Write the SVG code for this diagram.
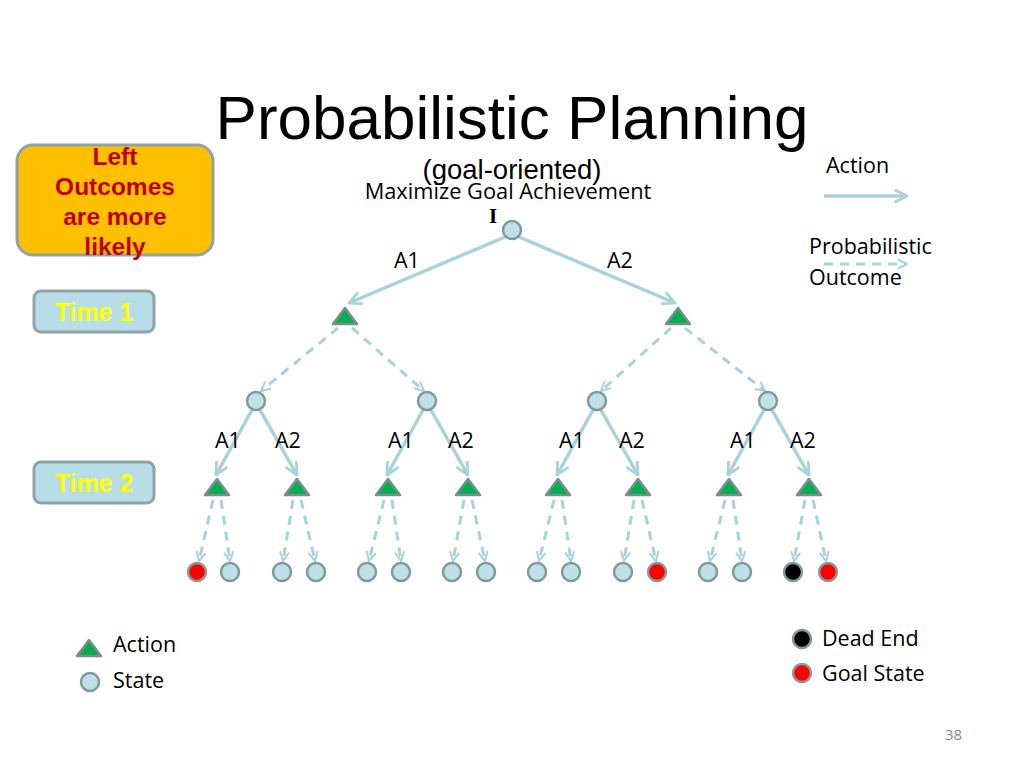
<svg xmlns="http://www.w3.org/2000/svg" width="1024" height="768" viewBox="0 0 1024 768">
<defs>
<style>
.t{font-family:"Liberation Sans",Arial,sans-serif;fill:#000}
.c{font-family:"Open Sans","Liberation Sans",sans-serif;fill:#000}
.st{fill:#bfe0e6;stroke:#7f9a9e;stroke-width:2.5}
.goal{fill:#ff0000;stroke:#8a9a9c;stroke-width:2.5}
.dead{fill:#000;stroke:#7f9a9e;stroke-width:2.5}
.act{fill:#00b050;stroke:#7f8c8c;stroke-width:2.5;stroke-linejoin:round}
.sol{stroke:#a8d3da;stroke-width:3.5;fill:none;marker-end:url(#ah)}
.dsh{stroke:#a8d3da;stroke-width:3;fill:none;stroke-dasharray:9 7;marker-end:url(#ahd)}
.lbl{font-family:"Open Sans","Liberation Sans",sans-serif;font-size:21.5px;fill:#000}
</style>
<marker id="ah" viewBox="0 0 12 12" refX="11" refY="6" markerWidth="15" markerHeight="15" markerUnits="userSpaceOnUse" orient="auto">
<path d="M1,1 L11,6 L1,11" fill="none" stroke="#a8d3da" stroke-width="2.2"/>
</marker>
<marker id="ahd" viewBox="0 0 12 12" refX="11" refY="6" markerWidth="11" markerHeight="11" markerUnits="userSpaceOnUse" orient="auto">
<path d="M1,1 L11,6 L1,11" fill="none" stroke="#a8d3da" stroke-width="2.2"/>
</marker>
<path id="tri" d="M-12,8 L0,-8 L12,8 Z"/>
</defs>
<rect width="1024" height="768" fill="#fff"/>

<text class="t" x="512" y="139" font-size="62" text-anchor="middle">Probabilistic Planning</text>
<text class="t" x="512" y="179" font-size="27.5" text-anchor="middle">(goal-oriented)</text>
<text class="c" x="508" y="199" font-size="21.8" text-anchor="middle">Maximize Goal Achievement</text>
<text x="493" y="223" font-family="Liberation Serif,serif" font-weight="bold" font-size="21" text-anchor="middle">I</text>

<g id="note">
<rect x="17" y="145" width="196" height="110" rx="16" fill="#ffc000" stroke="#8fa3a6" stroke-width="3"/>
<g class="t" font-size="24.5" font-weight="bold" style="fill:#c00000" text-anchor="middle">
<text x="115" y="165">Left</text>
<text x="115" y="195">Outcomes</text>
<text x="115" y="225">are more</text>
<text x="115" y="255">likely</text>
</g>
</g>
<g id="time1">
<rect x="34" y="291" width="120" height="41" rx="7" fill="#b7dee8" stroke="#8fa3a6" stroke-width="3"/>
<text class="t" x="94" y="321" font-size="25" font-weight="bold" style="fill:#ffff00" text-anchor="middle">Time 1</text>
</g>
<g id="time2">
<rect x="34" y="462" width="120" height="41" rx="7" fill="#b7dee8" stroke="#8fa3a6" stroke-width="3"/>
<text class="t" x="94" y="492" font-size="25" font-weight="bold" style="fill:#ffff00" text-anchor="middle">Time 2</text>
</g>

<g id="legend-top">
<text class="c" x="826" y="173" font-size="21.5">Action</text>
<line class="sol" x1="824" y1="196" x2="907" y2="196"/>
<text class="c" x="809" y="254" font-size="21.5">Probabilistic</text>
<line class="dsh" x1="824" y1="264" x2="907" y2="264"/>
<text class="c" x="809" y="285" font-size="21.5">Outcome</text>
</g>

<g id="connectors">
<line class="sol" x1="505" y1="237" x2="349" y2="303"/>
<line class="sol" x1="519" y1="237" x2="675" y2="303"/>
<line class="dsh" x1="338" y1="328" x2="261" y2="391"/>
<line class="dsh" x1="352" y1="328" x2="424" y2="391"/>
<line class="dsh" x1="671" y1="328" x2="601" y2="391"/>
<line class="dsh" x1="685" y1="328" x2="765" y2="391"/>

<line class="sol" x1="252" y1="410" x2="216" y2="475"/>
<line class="sol" x1="260" y1="410" x2="297" y2="475"/>
<line class="sol" x1="423" y1="410" x2="387" y2="475"/>
<line class="sol" x1="431" y1="410" x2="468" y2="475"/>
<line class="sol" x1="593" y1="410" x2="557" y2="475"/>
<line class="sol" x1="601" y1="410" x2="638" y2="475"/>
<line class="sol" x1="764" y1="410" x2="728" y2="475"/>
<line class="sol" x1="772" y1="410" x2="809" y2="475"/>

<line class="dsh" x1="213" y1="500" x2="199" y2="561"/>
<line class="dsh" x1="221" y1="500" x2="230" y2="561"/>
<line class="dsh" x1="293" y1="500" x2="283" y2="561"/>
<line class="dsh" x1="301" y1="500" x2="315" y2="561"/>
<line class="dsh" x1="384" y1="500" x2="369" y2="561"/>
<line class="dsh" x1="392" y1="500" x2="401" y2="561"/>
<line class="dsh" x1="464" y1="500" x2="453" y2="561"/>
<line class="dsh" x1="472" y1="500" x2="485" y2="561"/>
<line class="dsh" x1="554" y1="500" x2="539" y2="561"/>
<line class="dsh" x1="562" y1="500" x2="571" y2="561"/>
<line class="dsh" x1="634" y1="500" x2="624" y2="561"/>
<line class="dsh" x1="642" y1="500" x2="656" y2="561"/>
<line class="dsh" x1="725" y1="500" x2="710" y2="561"/>
<line class="dsh" x1="733" y1="500" x2="742" y2="561"/>
<line class="dsh" x1="805" y1="500" x2="794" y2="561"/>
<line class="dsh" x1="813" y1="500" x2="826" y2="561"/>
</g>

<g id="labels">
<text class="lbl" x="394" y="268">A1</text>
<text class="lbl" x="607" y="268">A2</text>
<text class="lbl" x="215" y="448">A1</text>
<text class="lbl" x="275" y="448">A2</text>
<text class="lbl" x="388" y="448">A1</text>
<text class="lbl" x="448" y="448">A2</text>
<text class="lbl" x="559" y="448">A1</text>
<text class="lbl" x="619" y="448">A2</text>
<text class="lbl" x="730" y="448">A1</text>
<text class="lbl" x="790" y="448">A2</text>
</g>

<g id="root"><circle class="st" cx="512" cy="230" r="9"/></g>
<g id="a-1"><use href="#tri" class="act" x="345" y="316"/></g>
<g id="a-2"><use href="#tri" class="act" x="678" y="316"/></g>
<g id="s-1"><circle class="st" cx="256" cy="401" r="9"/></g>
<g id="s-2"><circle class="st" cx="427" cy="401" r="9"/></g>
<g id="s-3"><circle class="st" cx="597" cy="401" r="9"/></g>
<g id="s-4"><circle class="st" cx="768" cy="401" r="9"/></g>
<g id="a-11"><use href="#tri" class="act" x="217" y="487"/></g>
<g id="a-12"><use href="#tri" class="act" x="297" y="487"/></g>
<g id="a-21"><use href="#tri" class="act" x="388" y="487"/></g>
<g id="a-22"><use href="#tri" class="act" x="468" y="487"/></g>
<g id="a-31"><use href="#tri" class="act" x="558" y="487"/></g>
<g id="a-32"><use href="#tri" class="act" x="638" y="487"/></g>
<g id="a-41"><use href="#tri" class="act" x="729" y="487"/></g>
<g id="a-42"><use href="#tri" class="act" x="809" y="487"/></g>
<g id="leaves">
<circle class="goal" cx="197" cy="572" r="9"/>
<circle class="st" cx="230" cy="572" r="9"/>
<circle class="st" cx="282" cy="572" r="9"/>
<circle class="st" cx="316" cy="572" r="9"/>
<circle class="st" cx="367" cy="572" r="9"/>
<circle class="st" cx="401" cy="572" r="9"/>
<circle class="st" cx="452" cy="572" r="9"/>
<circle class="st" cx="486" cy="572" r="9"/>
<circle class="st" cx="537" cy="572" r="9"/>
<circle class="st" cx="571" cy="572" r="9"/>
<circle class="st" cx="623" cy="572" r="9"/>
<circle class="goal" cx="657" cy="572" r="9"/>
<circle class="st" cx="708" cy="572" r="9"/>
<circle class="st" cx="742" cy="572" r="9"/>
<circle class="dead" cx="793" cy="572" r="9"/>
<circle class="goal" cx="828" cy="572" r="9"/>
</g>

<g id="legend-bottom">
<use href="#tri" class="act" x="89" y="648"/>
<text class="c" x="113" y="652" font-size="21.5">Action</text>
<circle class="st" cx="90" cy="682" r="9"/>
<text class="c" x="113" y="688" font-size="21.5">State</text>
<circle class="dead" cx="802" cy="639" r="9"/>
<text class="c" x="822" y="646" font-size="21.5">Dead End</text>
<circle class="goal" cx="802" cy="673" r="9"/>
<text class="c" x="822" y="681" font-size="21.5">Goal State</text>
</g>
<text class="c" x="945" y="740" font-size="15" style="fill:#888">38</text>
</svg>
